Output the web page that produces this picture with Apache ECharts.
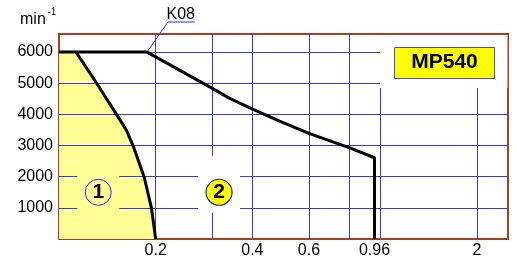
<!DOCTYPE html>
<html>
<head>
<meta charset="utf-8">
<script src="https://cdn.jsdelivr.net/npm/echarts@6/dist/echarts.min.js"></script>
<style>
html, body { margin: 0; padding: 0; background: #fff; }
#echarts { width: 517px; height: 260px; }
</style>
</head>
<body>
<div id="echarts"></div>
<script>
var FONT = 'Liberation Sans';
var ZONE1_FILL = '#ffff96';

var xTickLabels = [0.2, 0.4, 0.6, 0.96, 2];
var xGridLines = [0.2, 0.3, 0.4, 0.6, 0.8, 1, 2];
var yGridLines = [1000, 2000, 3000, 4000, 5000, 6000];

// zone 1 boundary
var zone1X = [0.113, 0.131, 0.151, 0.162, 0.17, 0.184, 0.194, 0.2];
var zone1Y = [6000, 5000, 4000, 3500, 3000, 2000, 1000, 0];
// zone 2 boundary
var zone2X = [0.1, 0.188, 0.3, 0.34, 0.404, 0.486, 0.6, 0.812, 0.96, 0.96];
var zone2Y = [6000, 6000, 4835, 4514, 4150, 3786, 3390, 2910, 2608, 0];

var zoneNames = ['1', '2'];
var zoneLabelX = [0.1325, 0.315];
var zoneLabelY = [1500, 1500];

var kneeName = 'K08';
var kneeX = 0.188, kneeY = 6000;
var modelName = 'MP540';

function pairs(xs, ys) {
    var out = [];
    for (var i = 0; i < xs.length; i++) out.push([xs[i], ys[i]]);
    return out;
}

var areaData = [[0.1, zone1Y[0]]].concat(pairs(zone1X, zone1Y));
var gridLineData = xGridLines.map(function (v) { return { xAxis: v }; })
    .concat(yGridLines.map(function (v) { return { yAxis: v }; }));

var myChart = echarts.init(document.getElementById('echarts'));

var option = {
    animation: false,
    textStyle: { fontFamily: FONT },
    grid: {
        left: 59, top: 34, right: 9, bottom: 21,
        show: true,
        borderColor: '#a6401e',
        borderWidth: 2
    },
    xAxis: {
        type: 'log',
        logBase: 10,
        min: 0.1,
        max: 2.5,
        axisLine: { show: false },
        axisTick: { show: false },
        splitLine: { show: false },
        axisLabel: {
            customValues: xTickLabels,
            formatter: function (v) { return String(+(+v).toPrecision(3)); },
            color: '#000',
            fontSize: 16,
            fontFamily: FONT,
            margin: 4
        }
    },
    yAxis: {
        type: 'value',
        min: 0,
        max: 6580,
        interval: 1000,
        axisLine: { show: false },
        axisTick: { show: false },
        splitLine: { show: false },
        axisLabel: {
            formatter: function (v) { return (v > 0 && v % 1000 === 0) ? String(v) : ''; },
            color: '#000',
            fontSize: 16,
            fontFamily: FONT,
            margin: 6
        }
    },
    series: [{
        // yellow zone 1
        type: 'line',
        data: areaData,
        symbol: 'none',
        silent: true,
        lineStyle: { width: 0 },
        areaStyle: { color: ZONE1_FILL, opacity: 1 },
        z: 1
    }, {
        // grid lines drawn over the yellow fill
        type: 'line',
        data: [],
        silent: true,
        z: 3,
        markLine: {
            z: 3,
            silent: true,
            symbol: ['none', 'none'],
            label: { show: false },
            lineStyle: { color: '#3535ff', width: 1, type: 'solid' },
            emphasis: { disabled: true },
            data: gridLineData
        }
    }, {
        type: 'scatter',
        silent: true,
        symbol: 'circle',
        symbolSize: 26,
        z: 20,
        itemStyle: { opacity: 1 },
        emphasis: { disabled: true },
        label: {
            show: true,
            position: 'inside',
            formatter: '{b}',
            color: '#000',
            fontWeight: 'bold',
            fontSize: 21,
            fontFamily: FONT
        },
        data: [
            { name: zoneNames[0], value: [zoneLabelX[0], zoneLabelY[0]],
              itemStyle: { color: 'rgba(0,0,0,0)', opacity: 1, borderColor: '#2a2aff', borderWidth: 1 } },
            { name: zoneNames[1], value: [zoneLabelX[1], zoneLabelY[1]],
              itemStyle: { color: '#ffff00', opacity: 1, borderColor: '#22228a', borderWidth: 1.2 } }
        ]
    }, {
        type: 'line',
        data: pairs(zone1X, zone1Y),
        symbol: 'none',
        silent: true,
        lineStyle: { color: '#000', width: 3 },
        z: 21
    }, {
        type: 'line',
        data: pairs(zone2X, zone2Y),
        symbol: 'none',
        silent: true,
        lineStyle: { color: '#000', width: 3 },
        z: 21
    }]
};
myChart.setOption(option);

// annotations placed from the chart's own scales
var knee = myChart.convertToPixel({ gridIndex: 0 }, [kneeX, kneeY]);
var gapFills = [ZONE1_FILL, '#ffffff'];
var gaps = zoneNames.map(function (n, i) {
    var c = myChart.convertToPixel({ gridIndex: 0 }, [zoneLabelX[i], zoneLabelY[i]]);
    return {
        type: 'rect',
        z: 10,
        silent: true,
        shape: { x: c[0] - 21, y: c[1] - 36.5, width: 42, height: 57 },
        style: { fill: gapFills[i] }
    };
});

myChart.setOption({
    graphic: gaps.concat([{
        type: 'rect',
        z: 10,
        silent: true,
        shape: { x: 380, y: 35, width: 127.5, height: 53 },
        style: { fill: '#fff' }
    }, {
        type: 'rect',
        z: 11,
        silent: true,
        shape: { x: 394.5, y: 47.5, width: 100, height: 31 },
        style: { fill: '#ffff00', stroke: '#4a4ad6', lineWidth: 1 }
    }, {
        type: 'text',
        z: 12,
        silent: true,
        style: {
            x: 444.5, y: 62.5,
            text: modelName,
            align: 'center', verticalAlign: 'middle',
            font: 'bold 21px "Liberation Sans"',
            fill: '#000'
        }
    }, {
        type: 'polyline',
        z: 12,
        silent: true,
        shape: { points: [[knee[0], knee[1]], [168, 22], [194.5, 22]] },
        style: { stroke: '#2a2aff', lineWidth: 1, fill: null }
    }, {
        type: 'text',
        z: 12,
        silent: true,
        style: {
            x: 166.5, y: 14.5,
            text: kneeName,
            align: 'left', verticalAlign: 'middle',
            font: '16px "Liberation Sans"',
            fill: '#000'
        }
    }, {
        type: 'text',
        z: 12,
        silent: true,
        style: {
            x: 20, y: 19.5,
            text: 'min',
            align: 'left', verticalAlign: 'middle',
            font: '16px "Liberation Sans"',
            fill: '#000'
        }
    }, {
        type: 'text',
        z: 12,
        silent: true,
        style: {
            x: 47.5, y: 12,
            text: '-1',
            align: 'left', verticalAlign: 'middle',
            font: '10px "Liberation Sans"',
            fill: '#000'
        }
    }])
});
</script>
</body>
</html>
